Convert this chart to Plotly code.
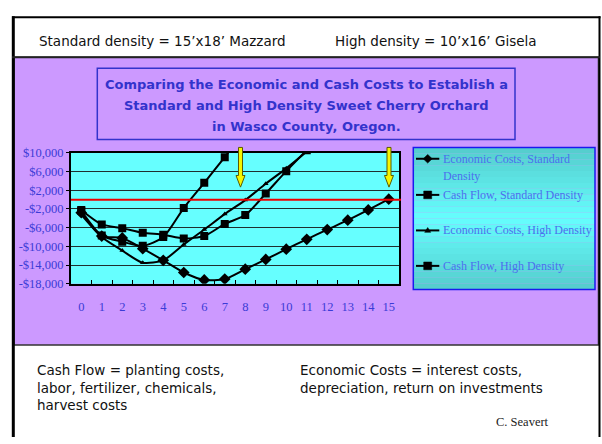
import plotly.graph_objects as go

# ---------------- data ----------------
years = [str(i) for i in range(16)]
econ_std = [-2800, -7800, -8200, -10500, -13000, -15600, -17200, -17000, -14900,
            -12800, -10600, -8500, -6400, -4400, -2200, 100]
cash_std = [-2200, -5300, -6100, -7100, -7500, -8300, -7800, -5200, -3300, 1300, 6100, 10600]
econ_hd = [-3200, -8000, -10900, -13500, -13000, -9600, -6400, -3100, -100, 3400, 6700, 10300]
cash_hd = [-2400, -7700, -9000, -9900, -8000, -1800, 3600, 9100, 14800]

ytick_vals = [10000, 6000, 2000, -2000, -6000, -10000, -14000, -18000]
ytick_text = ["$10,000", "$6,000", "$2,000", "-$2,000", "-$6,000", "-$10,000", "-$14,000", "-$18,000"]

series_names = ["Economic Costs, Standard<br>Density", "Cash Flow, Standard Density",
                "Economic Costs, High Density", "Cash Flow, High Density"]

W, H = 602, 444


def px(x):
    return x / W


def py(y):
    return 1 - y / H


fig = go.Figure()

line_style = dict(color="black", width=2, shape="spline", smoothing=0.7)
fig.add_trace(go.Scatter(x=years, y=econ_std, mode="lines+markers", line=line_style,
                         marker=dict(symbol="diamond", size=9, color="black"), showlegend=False))
fig.add_trace(go.Scatter(x=years[:len(cash_std)], y=cash_std, mode="lines+markers", line=line_style,
                         marker=dict(symbol="square", size=8, color="black"), showlegend=False))
fig.add_trace(go.Scatter(x=years[:len(econ_hd)], y=econ_hd, mode="lines+markers", line=line_style,
                         marker=dict(symbol="triangle-up", size=5, color="black"), showlegend=False))
fig.add_trace(go.Scatter(x=years[:len(cash_hd)], y=cash_hd, mode="lines+markers", line=line_style,
                         marker=dict(symbol="square", size=8, color="black"), showlegend=False))

PX0, PX1, PY0, PY1 = 71, 399, 150.7, 285.7

shapes = []
# purple chart area
shapes.append(dict(type="rect", xref="paper", yref="paper", layer="below",
                   x0=px(14), x1=px(598.5), y0=py(349), y1=py(52),
                   fillcolor="#CC99FF", line=dict(color="#333333", width=1.5)))
# plot area background
shapes.append(dict(type="rect", xref="paper", yref="paper", layer="below",
                   x0=px(PX0), x1=px(PX1), y0=py(PY1), y1=py(PY0),
                   fillcolor="#66FFFF", line=dict(width=0)))
# outer frame
shapes.append(dict(type="line", xref="paper", yref="paper", layer="below",
                   x0=px(13.3), x1=px(13.3), y0=py(9.5), y1=py(444), line=dict(color="black", width=3)))
shapes.append(dict(type="line", xref="paper", yref="paper", layer="below",
                   x0=px(12), x1=px(600.5), y0=py(10.5), y1=py(10.5), line=dict(color="black", width=2)))
shapes.append(dict(type="line", xref="paper", yref="paper", layer="below",
                   x0=px(599.5), x1=px(599.5), y0=py(9.5), y1=py(444), line=dict(color="black", width=2)))
shapes.append(dict(type="line", xref="paper", yref="paper", layer="below",
                   x0=px(12), x1=px(600), y0=py(52), y1=py(52), line=dict(color="#222222", width=2)))
# title box
shapes.append(dict(type="rect", xref="paper", yref="paper", layer="below",
                   x0=px(97.3), x1=px(515), y0=py(136.7), y1=py(63.3),
                   line=dict(color="#3333CC", width=1.5)))
# legend box with vertical gradient
lx0, lx1, ly0, ly1 = 413.3, 595, 145, 291.7
n = 24
for i in range(n):
    t = (i + 0.5) / n
    k = 1 - abs(t - 0.5) * 2  # 0 at edges, 1 at center
    r = int(0x55 + (0x66 - 0x55) * k)
    g = int(0xCC + (0xFF - 0xCC) * k)
    col = "#%02X%02X%02X" % (r, g, g)
    shapes.append(dict(type="rect", xref="paper", yref="paper", layer="below",
                       x0=px(lx0), x1=px(lx1),
                       y0=py(ly0 + (ly1 - ly0) * (i + 1) / n), y1=py(ly0 + (ly1 - ly0) * i / n),
                       fillcolor=col, line=dict(width=0)))
shapes.append(dict(type="rect", xref="paper", yref="paper", layer="below",
                   x0=px(lx0), x1=px(lx1), y0=py(ly1), y1=py(ly0),
                   line=dict(color="#1A1AEE", width=1.5)))

# legend samples
leg_y = [156.7, 194, 230.7, 267.3]
leg_sym = ["diamond", "square", "triangle", "square"]
for yy, sym in zip(leg_y, leg_sym):
    shapes.append(dict(type="line", xref="paper", yref="paper",
                       x0=px(416), x1=px(439.3), y0=py(yy), y1=py(yy),
                       line=dict(color="black", width=2)))
    cx = 427.7
    if sym == "diamond":
        pts = [(cx, yy - 4.5), (cx + 4.5, yy), (cx, yy + 4.5), (cx - 4.5, yy)]
    elif sym == "square":
        pts = [(cx - 4, yy - 4), (cx + 4, yy - 4), (cx + 4, yy + 4), (cx - 4, yy + 4)]
    else:
        pts = [(cx, yy - 3), (cx + 3, yy + 2), (cx - 3, yy + 2)]
    path = "M " + " L ".join("%f %f" % (px(a), py(b)) for a, b in pts) + " Z"
    shapes.append(dict(type="path", xref="paper", yref="paper", path=path,
                       fillcolor="black", line=dict(color="black", width=0.5)))

# red zero line
shapes.append(dict(type="line", xref="paper", yref="y", x0=px(71), x1=px(401), y0=0, y1=0,
                   line=dict(color="#EE0000", width=2)))

# yellow arrows
for ax in [240.5, 389]:
    pts = [(ax - 2, 145), (ax + 2, 145), (ax + 2, 174), (ax + 4.5, 174), (ax, 186),
           (ax - 4.5, 174), (ax - 2, 174)]
    path = "M " + " L ".join("%f %f" % (px(a), py(b)) for a, b in pts) + " Z"
    shapes.append(dict(type="path", xref="paper", yref="paper", path=path,
                       fillcolor="#F5F500", line=dict(color="#5A5A00", width=1)))

annotations = []
hdr_font = dict(family="DejaVu Sans", size=13.5, color="#111111")
annotations.append(dict(text="Standard density = 15’x18’ Mazzard", x=px(37), y=py(35),
                        xref="paper", yref="paper", xanchor="left", yanchor="middle",
                        showarrow=False, font=hdr_font))
annotations.append(dict(text="High density = 10’x16’ Gisela", x=px(333), y=py(35),
                        xref="paper", yref="paper", xanchor="left", yanchor="middle",
                        showarrow=False, font=hdr_font))
title_lines = ["Comparing the Economic and Cash Costs to Establish a",
               "Standard and High Density Sweet Cherry Orchard",
               "in Wasco County, Oregon."]
for t, yy in zip(title_lines, [80, 101.7, 123.3]):
    annotations.append(dict(text="<b>%s</b>" % t, x=px(306), y=py(yy), xref="paper", yref="paper",
                            xanchor="center", yanchor="middle", showarrow=False,
                            font=dict(family="DejaVu Sans", size=13, color="#3333CC")))
leg_font = dict(family="Liberation Serif", size=12, color="#4C6FEE")
leg_text_y = [156.7, 194, 230.7, 267.3]
leg_lines = [series_names[0].split("<br>")[0], series_names[1], series_names[2], series_names[3]]
for t, yy in zip(leg_lines, leg_text_y):
    annotations.append(dict(text=t, x=px(440.7), y=py(yy), xref="paper", yref="paper",
                            xanchor="left", yanchor="middle", showarrow=False, font=leg_font))
annotations.append(dict(text=series_names[0].split("<br>")[1], x=px(440.7), y=py(174.7),
                        xref="paper", yref="paper", xanchor="left", yanchor="middle",
                        showarrow=False, font=leg_font))
bot_left = ["Cash Flow = planting costs,", "labor, fertilizer, chemicals,", "harvest costs"]
bot_right = ["Economic Costs = interest costs,", "depreciation, return on investments"]
for t, yy in zip(bot_left, [375, 393, 411]):
    annotations.append(dict(text=t, x=px(35), y=py(yy), xref="paper", yref="paper",
                            xanchor="left", yanchor="middle", showarrow=False, font=hdr_font))
for t, yy in zip(bot_right, [375, 393]):
    annotations.append(dict(text=t, x=px(298), y=py(yy), xref="paper", yref="paper",
                            xanchor="left", yanchor="middle", showarrow=False, font=hdr_font))
annotations.append(dict(text="C. Seavert", x=px(551), y=py(428), xref="paper", yref="paper",
                        xanchor="right", yanchor="middle", showarrow=False,
                        font=dict(family="Liberation Serif", size=12.5, color="#222222")))

axis_font = dict(family="Liberation Serif", size=12.5, color="#3B3BD6")
fig.update_layout(
    width=W, height=H,
    margin=dict(l=0, r=0, t=0, b=0),
    paper_bgcolor="white",
    plot_bgcolor="rgba(0,0,0,0)",
    showlegend=False,
    shapes=shapes,
    annotations=annotations,
    xaxis=dict(domain=[px(PX0), px(PX1)], type="category", tickson="boundaries",
               ticks="inside", ticklen=4, tickcolor="black", tickwidth=1, tickangle=0,
               showgrid=False, showline=True, linecolor="black", linewidth=2, mirror=True,
               tickfont=axis_font, ticklabelstandoff=10, fixedrange=True,
               range=[-0.5, 15.5]),
    yaxis=dict(domain=[py(PY1), py(PY0)], range=[-18000, 10000],
               tickvals=ytick_vals, ticktext=ytick_text,
               ticks="outside", ticklen=3, tickcolor="black",
               showgrid=True, gridcolor="#1F2F2F", gridwidth=1, zeroline=False,
               showline=True, linecolor="black", linewidth=2, mirror=True,
               tickfont=axis_font, fixedrange=True),
)

fig.write_html("out.html", config={"displayModeBar": False},
               post_script="document.body.style.margin='0';")
